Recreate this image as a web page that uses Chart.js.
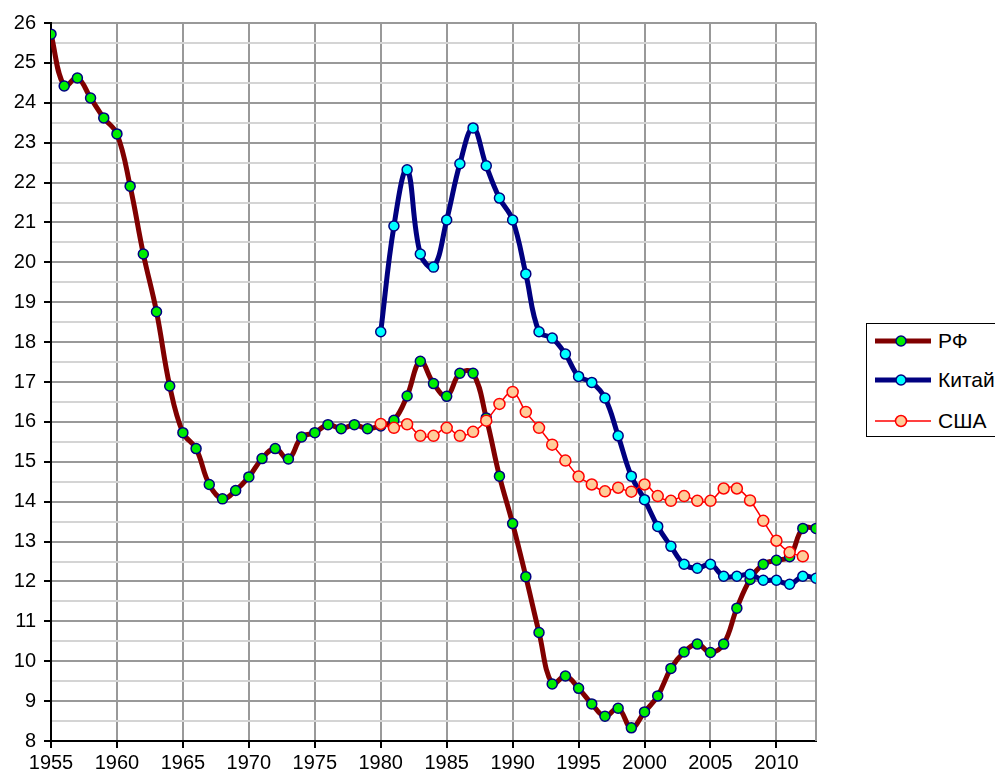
<!DOCTYPE html>
<html>
<head>
<meta charset="utf-8">
<script src="https://cdn.jsdelivr.net/npm/chart.js@4/dist/chart.umd.min.js"></script>
<style>
    body { margin: 0; background: #fff; overflow: hidden; width: 995px; height: 777px; position: relative; }
    #chart { position: absolute; left: 0; top: 0; }
    .legend {
        position: absolute; left: 866px; top: 323px; width: 150px; height: 112px;
        border: 1.5px solid #000; background: #fff;
        font-family: 'Liberation Sans', Arial, sans-serif; font-size: 21px; color: #000;
    }
    .legend .row { position: absolute; left: 6px; height: 24px; display: flex; align-items: center; }
    .legend svg { margin-right: 5px; }
</style>
</head>
<body>
<canvas id="chart" width="995" height="777"></canvas>
<div class="legend">
    <div class="row" style="top: 5px;">
        <svg width="60" height="24"><line x1="2" y1="12" x2="58" y2="12" stroke="#800000" stroke-width="5"/><circle cx="28" cy="12" r="5" fill="#00ee00" stroke="#000080" stroke-width="1.5"/></svg>РФ
    </div>
    <div class="row" style="top: 44px;">
        <svg width="60" height="24"><line x1="2" y1="12" x2="58" y2="12" stroke="#000080" stroke-width="5"/><circle cx="28" cy="12" r="5" fill="#00ffff" stroke="#000080" stroke-width="1.5"/></svg>Китай
    </div>
    <div class="row" style="top: 85px;">
        <svg width="60" height="24"><line x1="2" y1="12" x2="58" y2="12" stroke="#ff0000" stroke-width="1.5"/><circle cx="28" cy="12" r="5.5" fill="#ffcc99" stroke="#ff0000" stroke-width="1.5"/></svg>США
    </div>
</div>
<script>
const years = [1955, 1956, 1957, 1958, 1959, 1960, 1961, 1962, 1963, 1964,
    1965, 1966, 1967, 1968, 1969, 1970, 1971, 1972, 1973, 1974,
    1975, 1976, 1977, 1978, 1979, 1980, 1981, 1982, 1983, 1984,
    1985, 1986, 1987, 1988, 1989, 1990, 1991, 1992, 1993, 1994,
    1995, 1996, 1997, 1998, 1999, 2000, 2001, 2002, 2003, 2004,
    2005, 2006, 2007, 2008, 2009, 2010, 2011, 2012, 2013];

const rfValues = [25.72, 24.42, 24.62, 24.12, 23.62, 23.22, 21.91, 20.21, 18.76, 16.9,
    15.73, 15.33, 14.43, 14.07, 14.28, 14.62, 15.08, 15.33, 15.07, 15.62,
    15.73, 15.93, 15.83, 15.93, 15.83, 15.9, 16.04, 16.65, 17.52, 16.96,
    16.64, 17.22, 17.22, 16.1, 14.64, 13.45, 12.12, 10.72, 9.43, 9.63,
    9.32, 8.93, 8.62, 8.82, 8.33, 8.73, 9.13, 9.82, 10.23, 10.43,
    10.22, 10.43, 11.33, 12.05, 12.43, 12.53, 12.62, 13.33, 13.33];

const chinaValues = [null, null, null, null, null, null, null, null, null, null,
    null, null, null, null, null, null, null, null, null, null,
    null, null, null, null, null, 18.26, 20.91, 22.32, 20.21, 19.88,
    21.06, 22.47, 23.37, 22.42, 21.61, 21.06, 19.71, 18.26, 18.1, 17.7,
    17.14, 16.99, 16.6, 15.65, 14.64, 14.05, 13.38, 12.88, 12.43, 12.33,
    12.43, 12.13, 12.13, 12.18, 12.03, 12.03, 11.93, 12.13, 12.08];

const usaValues = [null, null, null, null, null, null, null, null, null, null,
    null, null, null, null, null, null, null, null, null, null,
    null, null, null, null, null, 15.95, 15.85, 15.94, 15.65, 15.65,
    15.85, 15.65, 15.75, 16.03, 16.45, 16.75, 16.25, 15.85, 15.43, 15.03,
    14.63, 14.43, 14.26, 14.35, 14.25, 14.43, 14.14, 14.02, 14.14, 14.02,
    14.02, 14.33, 14.33, 14.03, 13.52, 13.02, 12.73, 12.63, null];

const seriesNames = ['РФ', 'Китай', 'США'];

function toPoints(values) {
    let pts = [];
    values.forEach((v, i) => {
        if (v !== null) pts.push({ x: years[i], y: v });
    });
    return pts;
}

// right edge of the plot frame
const frame = {
    id: 'frame',
    beforeDatasetsDraw(chart) {
        let ctx = chart.ctx;
        let a = chart.chartArea;
        ctx.save();
        ctx.strokeStyle = '#999';
        ctx.lineWidth = 2;
        ctx.beginPath();
        ctx.moveTo(a.right, a.top);
        ctx.lineTo(a.right, a.bottom);
        ctx.stroke();
        ctx.restore();
    }
};

const font = { family: "'Liberation Sans', Arial, sans-serif", size: 20 };

new Chart(document.getElementById('chart'), {
    type: 'line',
    data: {
        datasets: [{
            label: seriesNames[0],
            data: toPoints(rfValues),
            borderColor: '#800000',
            borderWidth: 5,
            pointBackgroundColor: '#00ee00',
            pointBorderColor: '#000080',
            pointBorderWidth: 1.5,
            pointRadius: 5,
            tension: 0.4,
            order: 3
        }, {
            label: seriesNames[1],
            data: toPoints(chinaValues),
            borderColor: '#000080',
            borderWidth: 5,
            pointBackgroundColor: '#00ffff',
            pointBorderColor: '#000080',
            pointBorderWidth: 1.5,
            pointRadius: 5,
            tension: 0.4,
            order: 2
        }, {
            label: seriesNames[2],
            data: toPoints(usaValues),
            borderColor: '#ff0000',
            borderWidth: 1.5,
            pointBackgroundColor: '#ffcc99',
            pointBorderColor: '#ff0000',
            pointBorderWidth: 1.5,
            pointRadius: 5.5,
            tension: 0.4,
            order: 1
        }]
    },
    options: {
        responsive: false,
        animation: false,
        devicePixelRatio: 1,
        layout: { padding: { left: 0, top: 23, right: 179, bottom: 0 } },
        plugins: { legend: { display: false }, tooltip: { enabled: false } },
        scales: {
            x: {
                type: 'linear',
                min: 1955,
                max: 2013,
                afterFit: scale => { scale.height = 36; },
                border: { color: '#000', width: 2 },
                grid: {
                    color: c => c.tick && c.tick.value === 1955 ? 'rgba(0,0,0,0)' : '#999',
                    lineWidth: 2,
                    tickLength: 7,
                    tickColor: '#000',
                    tickWidth: 2
                },
                ticks: {
                    stepSize: 5,
                    includeBounds: false,
                    maxRotation: 0,
                    autoSkip: false,
                    color: '#000',
                    font: font,
                    padding: 3,
                    callback: v => String(v)
                }
            },
            y: {
                min: 8,
                max: 26,
                afterFit: scale => { scale.width = 51; },
                border: { color: '#000', width: 2 },
                grid: {
                    color: c => {
                        if (!c.tick || c.tick.value === 8) return 'rgba(0,0,0,0)';
                        return Number.isInteger(c.tick.value) ? '#999' : '#d4d4d4';
                    },
                    lineWidth: 2,
                    tickLength: 7,
                    tickColor: c => c.tick && Number.isInteger(c.tick.value) ? '#000' : 'rgba(0,0,0,0)',
                    tickWidth: 2
                },
                ticks: {
                    stepSize: 0.5,
                    autoSkip: false,
                    color: '#000',
                    font: font,
                    padding: 8,
                    callback: v => Number.isInteger(v) ? String(v) : ''
                }
            }
        }
    },
    plugins: [frame]
});
</script>
</body>
</html>
